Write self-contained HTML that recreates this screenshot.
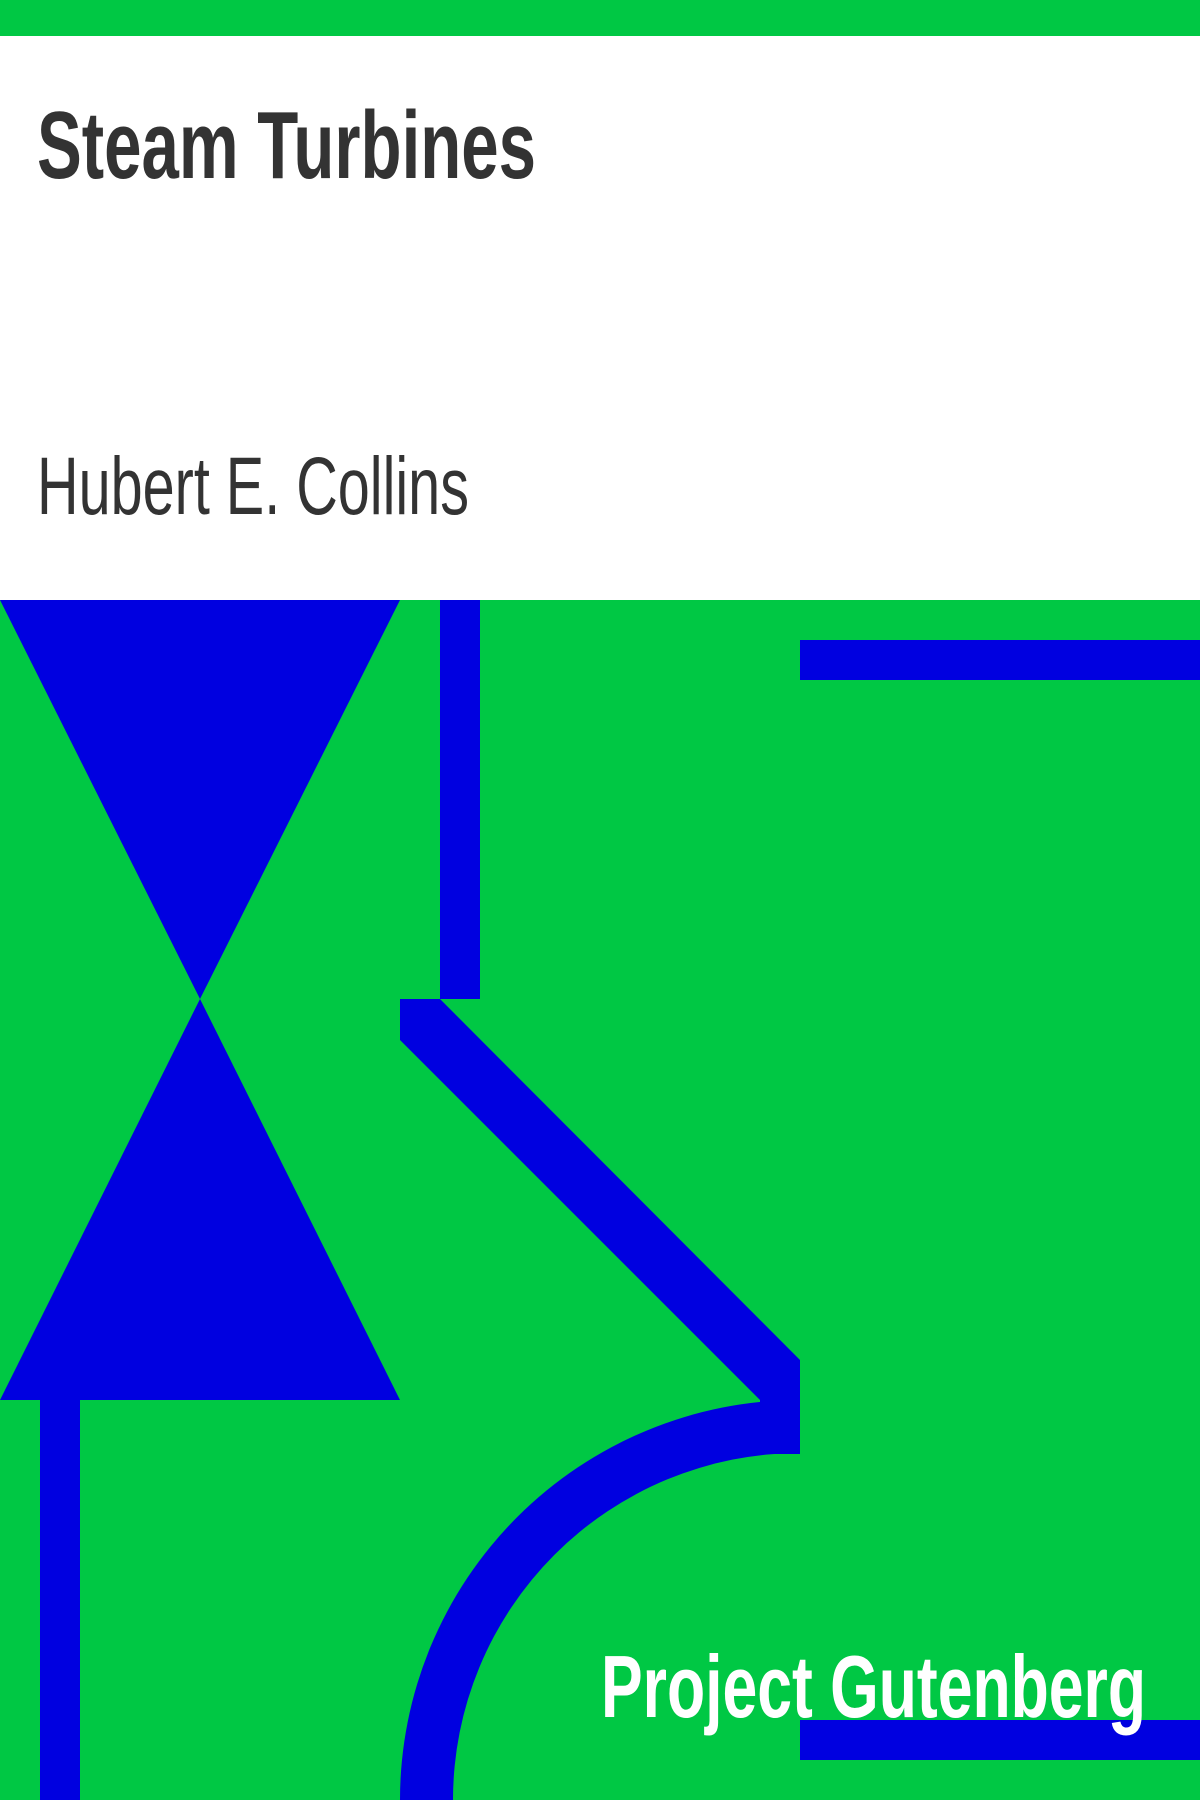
<!DOCTYPE html>
<html>
<head>
<meta charset="utf-8">
<style>
html,body{margin:0;padding:0;width:1200px;height:1800px;overflow:hidden;background:#fff;}
svg{display:block;}
</style>
</head>
<body>
<svg width="1200" height="1800" viewBox="0 0 1200 1800" xmlns="http://www.w3.org/2000/svg">
  <rect x="0" y="0" width="1200" height="36" fill="#00c844"/>
  <rect x="0" y="36" width="1200" height="564" fill="#ffffff"/>
  <text x="37" y="178" font-family="Liberation Sans Narrow, Liberation Sans, sans-serif" font-weight="bold" font-size="96" fill="#333333" textLength="499" lengthAdjust="spacingAndGlyphs">Steam Turbines</text>
  <text x="37" y="514" font-family="Liberation Sans Narrow, Liberation Sans, sans-serif" font-size="82" fill="#333333" textLength="432" lengthAdjust="spacingAndGlyphs">Hubert E. Collins</text>

  <rect x="0" y="600" width="1200" height="1200" fill="#00c844"/>
  <polygon points="0,600 400,600 200,999" fill="#0000e0"/>
  <polygon points="200,999 0,1400 400,1400" fill="#0000e0"/>
  <rect x="440" y="600" width="40" height="399" fill="#0000e0"/>
  <rect x="800" y="640" width="400" height="40" fill="#0000e0"/>
  <polygon points="400,999 440,999 800,1360 800,1400 760,1400 400,1040" fill="#0000e0"/>
  <rect x="760" y="1360" width="40" height="94" fill="#0000e0"/>
  <path d="M800,1400 A400,400 0 0 0 400,1800 L453,1800 A347,347 0 0 1 800,1453 Z" fill="#0000e0"/>
  <rect x="40" y="1400" width="40" height="400" fill="#0000e0"/>
  <rect x="800" y="1720" width="400" height="40" fill="#0000e0"/>
  <text x="601" y="1717" font-family="Liberation Sans Narrow, Liberation Sans, sans-serif" font-weight="bold" font-size="88" fill="#ffffff" textLength="545" lengthAdjust="spacingAndGlyphs">Project Gutenberg</text>
</svg>
</body>
</html>
